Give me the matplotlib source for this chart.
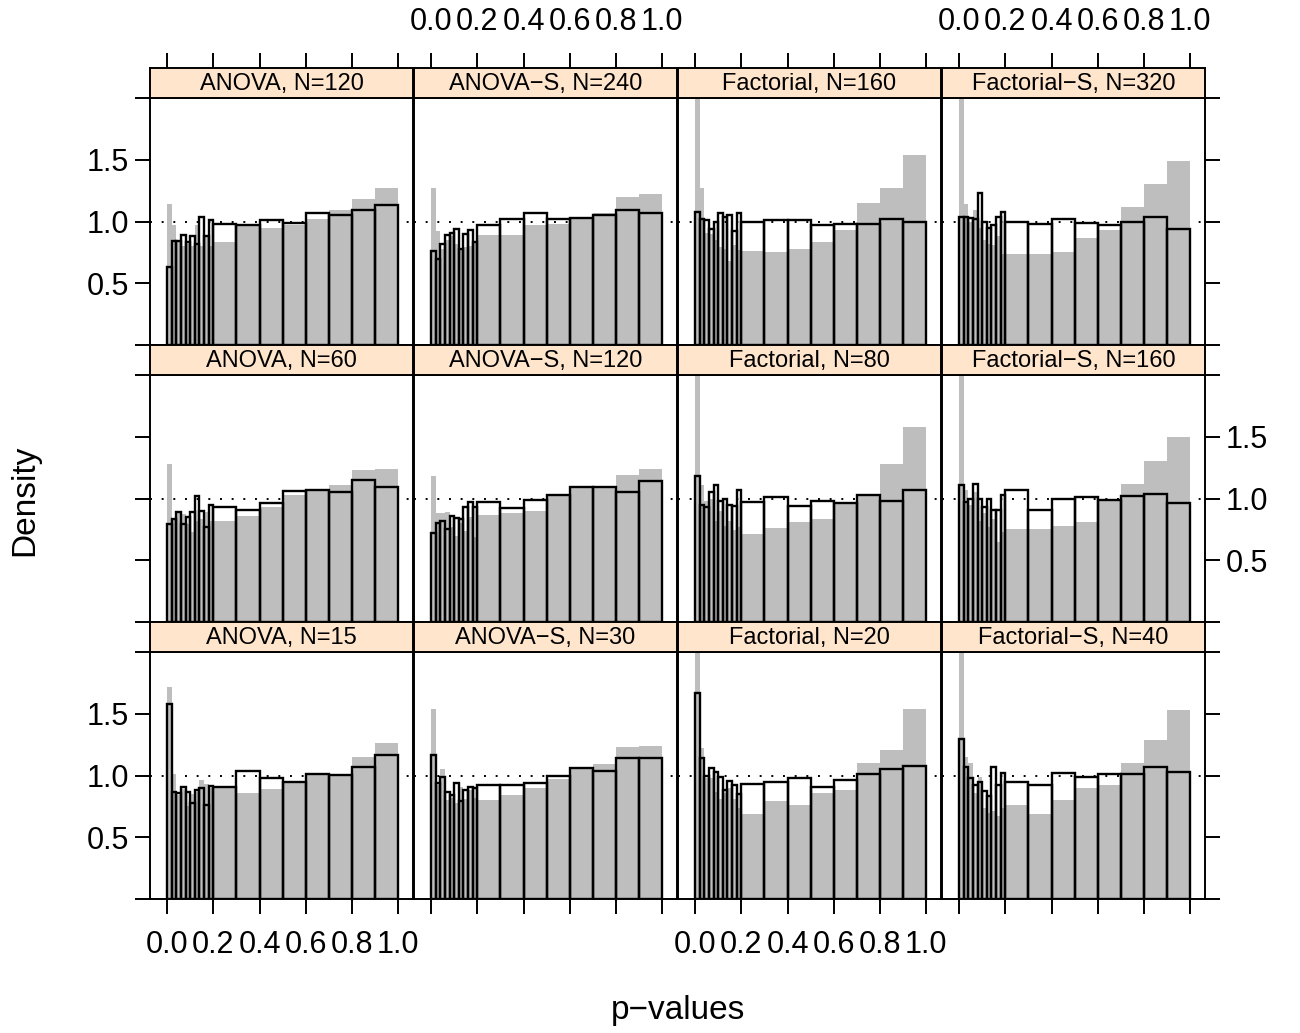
import numpy as np
import matplotlib
matplotlib.use("Agg")
import matplotlib.pyplot as plt

plt.rcParams['font.family'] = ['Liberation Sans', 'DejaVu Sans']

# histogram bin edges (p-values)
bin_edges = [0.0, 0.02, 0.04, 0.06, 0.08, 0.10, 0.12, 0.14, 0.16, 0.18, 0.20,
             0.3, 0.4, 0.5, 0.6, 0.7, 0.8, 0.9, 1.0]

# ---- top row ----
anova_120_white = [0.63, 0.84, 0.84, 0.89, 0.83, 0.88, 0.82, 1.04, 0.88, 1.01,
                   0.98, 0.97, 1.01, 0.99, 1.07, 1.05, 1.09, 1.13]
anova_120_grey = [1.14, 0.97, 0.83, 0.80, 0.82, 0.80, 0.97, 0.80, 0.88, 0.80,
                  0.83, 0.96, 0.95, 0.97, 1.02, 1.09, 1.18, 1.27]
anovas_240_white = [0.76, 0.70, 0.82, 0.89, 0.91, 0.94, 0.78, 0.90, 0.93, 0.83,
                    0.97, 1.02, 1.07, 1.02, 1.03, 1.05, 1.09, 1.07]
anovas_240_grey = [1.27, 0.92, 0.78, 0.85, 0.88, 0.82, 0.78, 0.79, 0.80, 0.83,
                   0.89, 0.89, 0.97, 0.98, 1.04, 1.07, 1.20, 1.22]
fact_160_white = [1.08, 1.02, 1.01, 0.94, 1.00, 1.07, 1.04, 1.05, 0.92, 1.07,
                  1.00, 1.01, 1.01, 0.97, 0.98, 0.98, 1.02, 1.00]
fact_160_grey = [2.40, 1.27, 0.91, 0.90, 0.85, 0.79, 0.78, 0.68, 0.81, 0.77,
                 0.76, 0.75, 0.78, 0.83, 0.93, 1.15, 1.27, 1.54]
facts_320_white = [1.04, 1.04, 1.03, 1.02, 1.23, 1.00, 0.95, 0.97, 1.035, 1.08,
                   1.00, 0.98, 1.02, 0.99, 0.97, 1.00, 1.04, 0.94]
facts_320_grey = [2.30, 1.14, 1.00, 1.09, 0.95, 0.85, 0.82, 0.81, 0.88, 0.74,
                  0.74, 0.74, 0.75, 0.87, 0.93, 1.12, 1.30, 1.49]

# ---- middle row ----
anova_60_white = [0.79, 0.83, 0.89, 0.79, 0.85, 0.89, 1.02, 0.90, 0.77, 0.95,
                  0.93, 0.91, 0.965, 1.06, 1.07, 1.05, 1.15, 1.09]
anova_60_grey = [1.28, 0.84, 0.89, 0.875, 0.79, 0.73, 0.82, 0.83, 0.89, 0.82,
                 0.82, 0.86, 0.93, 1.03, 1.06, 1.11, 1.23, 1.24]
anovas_120_white = [0.72, 0.80, 0.815, 0.75, 0.856, 0.84, 0.835, 0.93, 0.97, 0.93,
                    0.97, 0.92, 0.99, 1.03, 1.09, 1.09, 1.05, 1.14]
anovas_120_grey = [1.18, 0.88, 0.88, 0.89, 0.77, 0.70, 0.80, 0.74, 0.85, 0.69,
                   0.87, 0.88, 0.90, 1.03, 1.09, 1.10, 1.19, 1.24]
fact_80_white = [1.18, 0.95, 0.935, 1.05, 1.11, 0.98, 0.995, 0.945, 0.94, 1.065,
                 0.97, 1.01, 0.94, 0.98, 0.965, 1.03, 0.98, 1.07]
fact_80_grey = [2.20, 1.11, 0.976, 1.00, 0.82, 0.90, 0.78, 0.82, 0.745, 0.77,
                0.71, 0.76, 0.81, 0.83, 0.965, 1.03, 1.28, 1.58]
facts_160_white = [1.11, 0.97, 1.00, 1.12, 1.00, 0.93, 0.995, 0.91, 0.91, 1.03,
                   1.07, 0.91, 1.00, 1.01, 0.99, 1.02, 1.04, 0.96]
facts_160_grey = [2.30, 1.07, 0.95, 1.05, 0.815, 0.88, 0.77, 0.83, 0.65, 0.73,
                  0.756, 0.75, 0.78, 0.81, 0.98, 1.12, 1.30, 1.50]

# ---- bottom row ----
anova_15_white = [1.58, 0.87, 0.856, 0.91, 0.87, 0.78, 0.886, 0.90, 0.76, 0.916,
                  0.91, 1.035, 0.976, 0.946, 1.016, 1.005, 1.065, 1.17]
anova_15_grey = [1.715, 1.01, 0.84, 0.89, 0.75, 0.85, 0.87, 0.96, 0.93, 0.90,
                 0.91, 0.86, 0.89, 0.94, 1.02, 1.00, 1.15, 1.26]
anovas_30_white = [1.165, 0.94, 0.99, 0.867, 0.84, 0.94, 0.79, 0.88, 0.91, 0.90,
                   0.92, 0.927, 0.94, 0.997, 1.057, 1.035, 1.14, 1.14]
anovas_30_grey = [1.54, 0.92, 1.05, 0.80, 0.82, 0.78, 0.91, 0.81, 0.88, 0.82,
                  0.80, 0.84, 0.90, 0.97, 1.06, 1.09, 1.23, 1.24]
fact_20_white = [1.67, 1.14, 1.00, 1.06, 1.03, 0.986, 0.88, 0.954, 0.92, 0.85,
                 0.93, 0.95, 0.98, 0.91, 0.965, 1.016, 1.054, 1.08]
fact_20_grey = [2.20, 1.22, 0.98, 0.98, 0.87, 0.81, 0.86, 0.90, 0.81, 0.74,
                0.69, 0.79, 0.76, 0.86, 0.88, 1.10, 1.21, 1.54]
facts_40_white = [1.295, 1.07, 0.976, 0.92, 0.95, 0.875, 0.83, 1.07, 0.92, 1.02,
                  0.946, 0.927, 1.02, 0.99, 1.016, 1.01, 1.07, 1.025]
facts_40_grey = [2.30, 1.15, 1.10, 0.86, 0.99, 0.74, 0.70, 0.71, 0.67, 0.74,
                 0.76, 0.69, 0.80, 0.90, 0.92, 1.10, 1.29, 1.53]

strip_titles = [
    ["ANOVA, N=120", "ANOVA\u2212S, N=240", "Factorial, N=160", "Factorial\u2212S, N=320"],
    ["ANOVA, N=60", "ANOVA\u2212S, N=120", "Factorial, N=80", "Factorial\u2212S, N=160"],
    ["ANOVA, N=15", "ANOVA\u2212S, N=30", "Factorial, N=20", "Factorial\u2212S, N=40"],
]
white_data = [
    [anova_120_white, anovas_240_white, fact_160_white, facts_320_white],
    [anova_60_white, anovas_120_white, fact_80_white, facts_160_white],
    [anova_15_white, anovas_30_white, fact_20_white, facts_40_white],
]
grey_data = [
    [anova_120_grey, anovas_240_grey, fact_160_grey, facts_320_grey],
    [anova_60_grey, anovas_120_grey, fact_80_grey, facts_160_grey],
    [anova_15_grey, anovas_30_grey, fact_20_grey, facts_40_grey],
]

x_ticks = [0.0, 0.2, 0.4, 0.6, 0.8, 1.0]
x_ticklabels = ["0.0", "0.2", "0.4", "0.6", "0.8", "1.0"]
y_ticks = [0.0, 0.5, 1.0, 1.5, 2.0]
y_ticklabels = ["", "0.5", "1.0", "1.5", ""]

W, H = 1300, 1033
fig = plt.figure(figsize=(W / 100, H / 100), dpi=100)

col_left = [150, 414, 678, 942]
col_w = 263
panel_top = [98, 375, 652]
panel_h = 247
strip_h = 30

XLIM = (-0.074, 1.064)
YLIM = (0.0, 2.0)
TICK_FS = 22
TICK_LEN = 11
LW = 1.4

def frac(x, y, w, h):
    return [x / W, 1 - (y + h) / H, w / W, h / H]

edges = np.array(bin_edges)
lefts = edges[:-1]
widths = np.diff(edges)

for r in range(3):
    for c in range(4):
        ax = fig.add_axes(frac(col_left[c], panel_top[r], col_w, panel_h))
        ax.axhline(1.0, color='black', lw=1.4, ls=(0, (1, 5)), zorder=1)
        ax.bar(lefts, grey_data[r][c], width=widths, align='edge',
               color='#BEBEBE', linewidth=0, zorder=2)
        ax.bar(lefts, white_data[r][c], width=widths, align='edge',
               fill=False, edgecolor='black', linewidth=1.7, zorder=3)
        ax.set_xlim(*XLIM)
        ax.set_ylim(*YLIM)
        for s in ax.spines.values():
            s.set_linewidth(LW)
        # x ticks
        ax.set_xticks(x_ticks)
        if r == 2:
            ax.tick_params(axis='x', bottom=True, top=False, direction='out',
                           length=TICK_LEN, width=LW, labelsize=TICK_FS,
                           labelbottom=(c % 2 == 0), pad=11)
            ax.set_xticklabels(x_ticklabels)
        else:
            ax.tick_params(axis='x', bottom=False, top=False,
                           labelbottom=False, labeltop=False)
        # y ticks
        ax.set_yticks(y_ticks)
        ax.set_yticklabels(y_ticklabels)
        left_on = (c == 0)
        right_on = (c == 3)
        ax.tick_params(axis='y', left=left_on, right=right_on, direction='out',
                       length=TICK_LEN, width=LW, labelsize=TICK_FS,
                       labelleft=(left_on and r != 1),
                       labelright=(right_on and r == 1), pad=4)

        # strip
        sax = fig.add_axes(frac(col_left[c], panel_top[r] - strip_h, col_w, strip_h))
        sax.set_facecolor('#FFE5CC')
        sax.set_xlim(*XLIM)
        sax.set_ylim(0, 1)
        for s in sax.spines.values():
            s.set_linewidth(LW)
        sax.set_yticks([])
        sax.text(0.5, 0.47, strip_titles[r][c], transform=sax.transAxes,
                 ha='center', va='center', fontsize=17)
        if r == 0:
            sax.set_xticks(x_ticks)
            sax.set_xticklabels(x_ticklabels)
            sax.tick_params(axis='x', bottom=False, top=True, direction='out',
                            length=TICK_LEN, width=LW, labelsize=TICK_FS,
                            labelbottom=False, labeltop=(c % 2 == 1), pad=11)
        else:
            sax.set_xticks([])

fig.text(25 / W, 1 - 500 / H, "Density", rotation=90, ha='center', va='center',
         fontsize=24)
fig.text(678 / W, 1 - 1010 / H, "p\u2212values", ha='center', va='center',
         fontsize=24)

fig.savefig("out.png", dpi=100)
